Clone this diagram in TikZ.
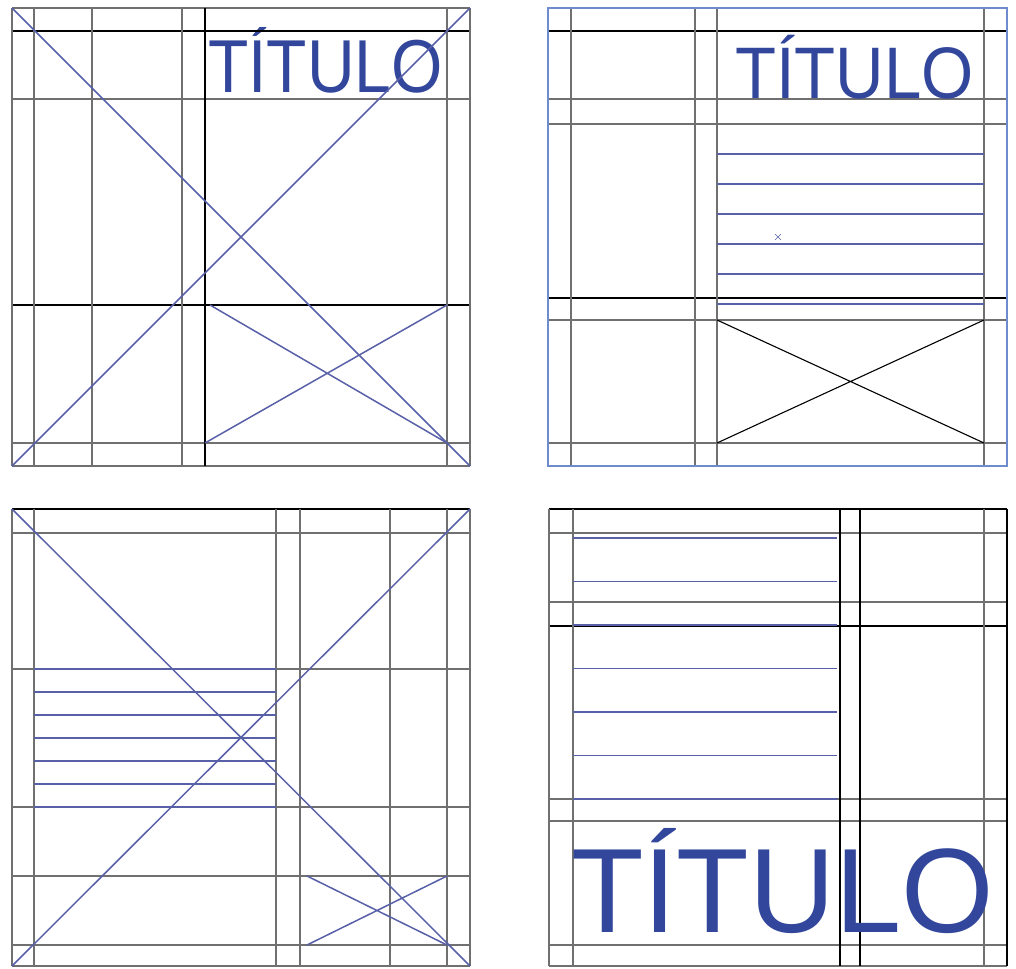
\documentclass[tikz,border=0pt]{standalone}
\usepackage{fontspec}
\setmainfont{Liberation Sans}
\usepackage{tikz}

\definecolor{gridgray}{RGB}{112,112,112}
\definecolor{guideblue}{RGB}{88,96,168}
\definecolor{titleblue}{RGB}{50,70,155}
\definecolor{frameblue}{RGB}{110,140,205}

\tikzset{
  gline/.style={gridgray, line width=1.6pt},
  kline/.style={black, line width=1.1pt},
  bline/.style={guideblue, line width=1.5pt},
  titletext/.style={titleblue, inner sep=0pt, anchor=base west},
}

\begin{document}
\begin{tikzpicture}[x=1pt, y=-1pt]
  \useasboundingbox (0,0) rectangle (1016,968);

  % panel 1 (top left)
  \node[titletext, font=\fontsize{75}{75}\selectfont] (tit1) at (208,93) {\scalebox{0.88}[1]{TÍTULO}};
  \foreach \y in {8,99,443,466} \draw[gline] (12,\y) -- (470,\y);
  \foreach \y in {31,305} \draw[kline] (12,\y) -- (470,\y);
  \foreach \x in {12,34,92,182,447,470} \draw[gline] (\x,8) -- (\x,466);
  \draw[kline] (205,8) -- (205,466);
  \draw[bline] (12,8) -- (470,466) (12,466) -- (470,8);
  \draw[bline] (210,305) -- (447,443) (205,443) -- (447,305);

  % panel 2 (top right)
  \foreach \y in {99,124,320,443} \draw[gline] (548,\y) -- (1007,\y);
  \foreach \y in {31,298} \draw[kline] (548,\y) -- (1007,\y);
  \foreach \x in {571,695,717,984} \draw[gline] (\x,8) -- (\x,466);
  \draw[frameblue, line width=1.5pt] (548,8) rectangle (1007,466);
  \foreach \y in {154,184,...,304} \draw[bline, line width=1.2pt] (717,\y) -- (984,\y);
  \draw[guideblue, line width=0.6pt] (775,234) -- (781,240) (775,240) -- (781,234);
  \draw[kline] (717,320) -- (984,443) (717,443) -- (984,320);
  \node[titletext, font=\fontsize{73}{73}\selectfont] (tit2) at (735,99) {\scalebox{0.92}[1]{TÍTULO}};

  % panel 3 (bottom left)
  \foreach \y in {533,669,807,876,945,966} \draw[gline] (12,\y) -- (470,\y);
  \draw[kline] (12,509) -- (470,509);
  \foreach \x in {12,34,276,300,390,447,470} \draw[gline] (\x,509) -- (\x,966);
  \foreach \y in {669,692,...,807} \draw[bline] (34,\y) -- (276,\y);
  \draw[bline] (12,509) -- (470,966) (12,966) -- (470,509);
  \draw[bline] (307,876) -- (447,945) (307,945) -- (447,876);

  % panel 4 (bottom right)
  \foreach \y in {533,602,799,821,945,966} \draw[gline] (549,\y) -- (1007,\y);
  \foreach \y in {509,626} \draw[kline] (549,\y) -- (1007,\y);
  \foreach \x in {549,573,984} \draw[gline] (\x,509) -- (\x,966);
  \foreach \x in {840,860,1007} \draw[kline] (\x,509) -- (\x,966);
  \foreach \i in {0,...,6} \draw[bline] (573,538+43.5*\i) -- (837,538+43.5*\i);
  \node[titletext, font=\fontsize{120}{120}\selectfont] (tit3) at (571,932) {\scalebox{0.99}[1]{TÍTULO}};
\end{tikzpicture}
\end{document}
